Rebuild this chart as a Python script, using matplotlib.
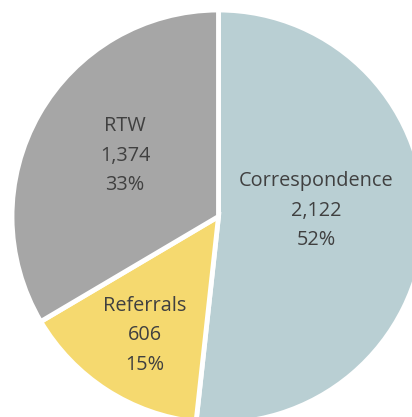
import matplotlib
matplotlib.use("Agg")
import matplotlib.pyplot as plt

categories = ["Correspondence", "Referrals", "RTW"]
values = [2122, 606, 1374]
colors = ["#B9CFD3", "#F5D96F", "#A6A6A6"]

W, H = 412, 417
fig = plt.figure(figsize=(W / 100, H / 100), dpi=100)
ax = fig.add_axes([0, 0, 1, 1])
cx, cy, r = 218.5, H - 216.5, 206.5
total = sum(values)

wedges, texts = ax.pie(values, colors=colors, startangle=90, counterclock=False,
                       center=(cx, cy), radius=r,
                       wedgeprops=dict(edgecolor="white", linewidth=3.5))
# label centre x and baseline of first line (pixels from top)
label_pos = {"Correspondence": (316, 186), "Referrals": (145, 311), "RTW": (125, 131)}
pitch = 29.5
for cat, val in zip(categories, values):
    x, y0 = label_pos[cat]
    pct = 100 * val / total
    for i, line in enumerate([cat, f"{val:,}", f"{pct:.0f}%"]):
        ax.text(x, H - (y0 + i * pitch), line, ha="center", va="baseline",
                fontsize=14.3, color="#404040", family="Open Sans")
ax.set_xlim(0, W)
ax.set_ylim(0, H)
ax.set_aspect("auto")
ax.axis("off")
fig.savefig("out.png", dpi=100)
